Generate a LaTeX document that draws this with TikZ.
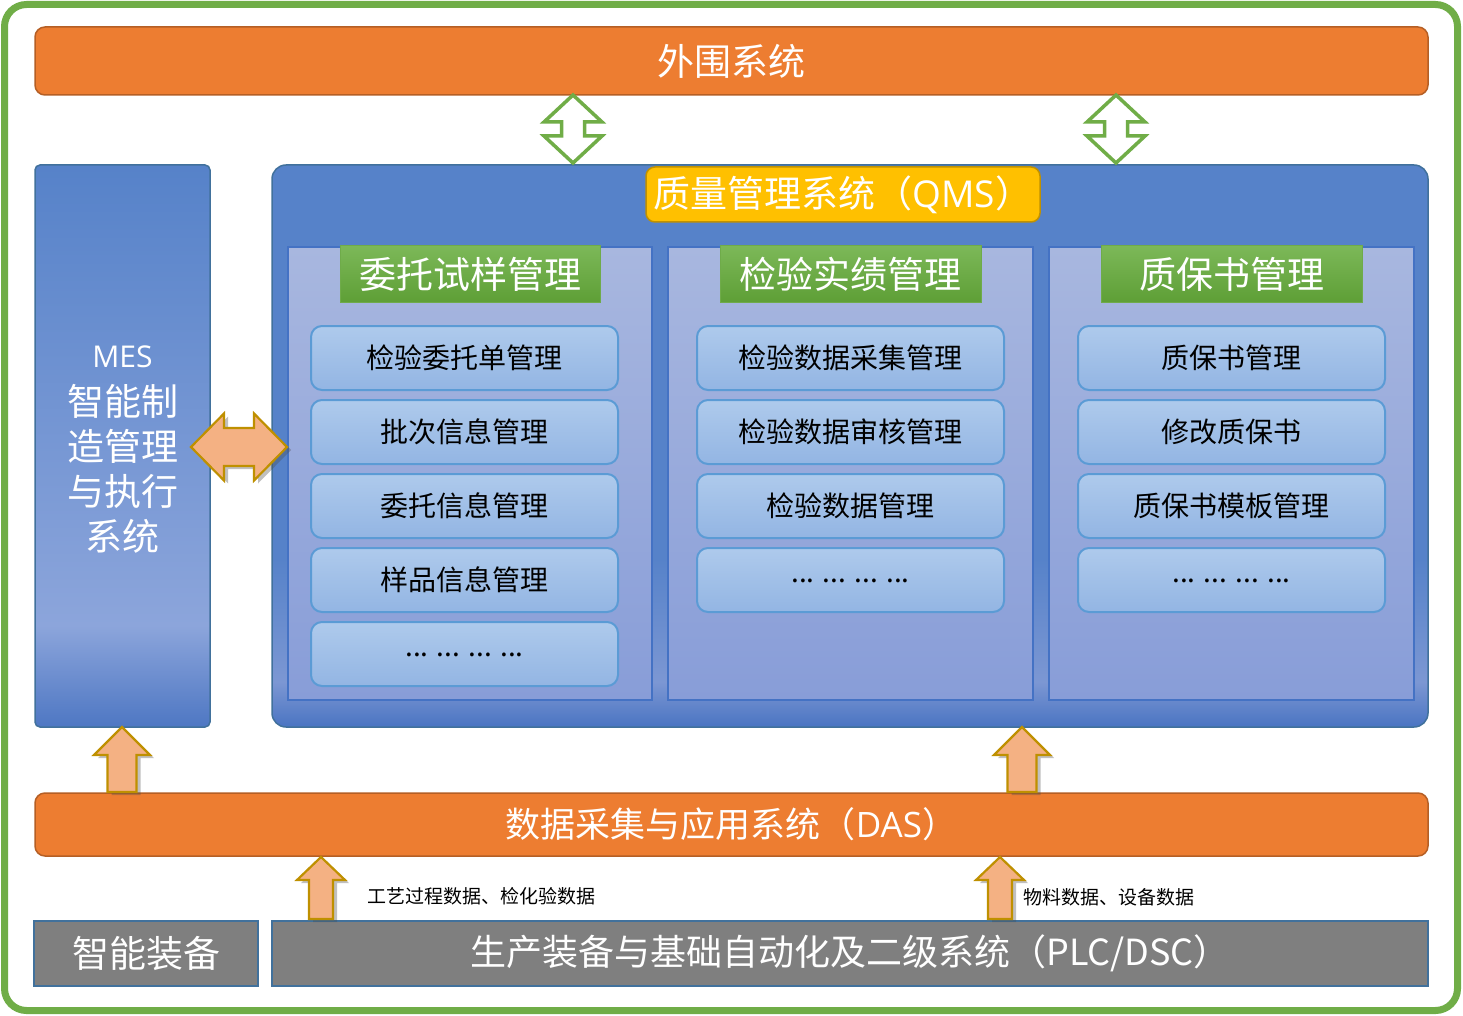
\documentclass[tikz,border=0pt]{standalone}
\usepackage{fontspec}
\setmainfont{Noto Sans CJK SC}
\newfontfamily\latf{Open Sans}
\usetikzlibrary{shadows,calc}
\definecolor{grnB}{HTML}{70AD47}
\definecolor{orgF}{HTML}{ED7D31}
\definecolor{orgD}{HTML}{B55F25}
\definecolor{qmsB}{HTML}{4A74C2}
\definecolor{qmsL}{HTML}{7C97D3}
\definecolor{qmsT}{HTML}{5682C9}
\definecolor{qmsD}{HTML}{41719C}
\definecolor{mesB}{HTML}{4E77C3}
\definecolor{mesL}{HTML}{8CA5DB}
\definecolor{mesT}{HTML}{5682C9}
\definecolor{panT}{HTML}{A8B7DF}
\definecolor{panB}{HTML}{889DD8}
\definecolor{panD}{HTML}{4472C4}
\definecolor{hdT}{HTML}{7CB858}
\definecolor{hdB}{HTML}{5E9F36}
\definecolor{hdD}{HTML}{6FAB4A}
\definecolor{itT}{HTML}{AECAEC}
\definecolor{itB}{HTML}{93B5E3}
\definecolor{itD}{HTML}{5B9BD5}
\definecolor{yelF}{HTML}{FFC000}
\definecolor{yelD}{HTML}{C09100}
\definecolor{gryF}{HTML}{7F7F7F}
\definecolor{gryD}{HTML}{41719C}
\definecolor{arrF}{HTML}{F4B183}
\definecolor{arrD}{HTML}{BF9000}
\pgfdeclareverticalshading{messhade}{100bp}{color(0bp)=(mesB); color(25bp)=(mesB); color(34bp)=(mesL); color(75bp)=(mesT); color(100bp)=(mesT)}
\pgfdeclareverticalshading{qmsshade}{100bp}{color(0bp)=(qmsB); color(25bp)=(qmsB); color(29bp)=(qmsL); color(40bp)=(qmsT); color(100bp)=(qmsT)}
\newcommand\myfs[1]{\fontsize{#1}{#1}\selectfont}
% single up arrow: style, tip, base, half head width, half shaft width, head length
\newcommand\myuparr[6]{\path[#1] let \p1=(#2),\p2=(#3) in (\x1,\y1) -- (\x1+#4,\y1-#6) -- (\x1+#5,\y1-#6) -- (\x1+#5,\y2) -- (\x1-#5,\y2) -- (\x1-#5,\y1-#6) -- (\x1-#4,\y1-#6) -- cycle;}
% vertical double arrow: style, top tip, bottom tip, half head, half shaft, head length
\newcommand\mydblv[6]{\path[#1] let \p1=(#2),\p2=(#3) in (\x1,\y1) -- (\x1+#4,\y1-#6) -- (\x1+#5,\y1-#6) -- (\x1+#5,\y2+#6) -- (\x1+#4,\y2+#6) -- (\x1,\y2) -- (\x1-#4,\y2+#6) -- (\x1-#5,\y2+#6) -- (\x1-#5,\y1-#6) -- (\x1-#4,\y1-#6) -- cycle;}
% horizontal double arrow: style, left tip, right tip, half head, half shaft, head length
\newcommand\mydblh[6]{\path[#1] let \p1=(#2),\p2=(#3) in (\x1,\y1) -- (\x1+#6,\y1+#4) -- (\x1+#6,\y1+#5) -- (\x2-#6,\y1+#5) -- (\x2-#6,\y1+#4) -- (\x2,\y1) -- (\x2-#6,\y1-#4) -- (\x2-#6,\y1-#5) -- (\x1+#6,\y1-#5) -- (\x1+#6,\y1-#4) -- cycle;}
\tikzset{
  box/.style={inner sep=0pt, outer sep=0pt},
  orangebar/.style={box, draw=orgD, line width=1.5pt, fill=orgF, rounded corners=10pt, text=white, font=\myfs{37}},
  qmsbox/.style={box, draw=qmsD, line width=1.5pt, shading=qmsshade, rounded corners=14pt},
  mesbox/.style={box, draw=qmsD, line width=1.5pt, shading=messhade, rounded corners=5pt},
  mestext/.style={box, text=white, align=center, font=\fontsize{37}{45}\selectfont},
  titlebox/.style={box, draw=yelD, line width=1.5pt, fill=yelF, rounded corners=9pt, text=white, font=\myfs{37}},
  panel/.style={box, draw=panD, line width=2pt, top color=panT, bottom color=panB},
  header/.style={box, draw=hdD, line width=1pt, top color=hdT, bottom color=hdB, text=white, font=\myfs{37}},
  item/.style={box, draw=itD, line width=2pt, top color=itT, bottom color=itB, rounded corners=11pt, text=black, font=\myfs{28}, minimum width=307pt, minimum height=64pt},
  graybox/.style={box, draw=gryD, line width=2pt, fill=gryF, text=white, font=\myfs{36}, minimum height=65pt},
  greenarrow/.style={draw=grnB, line width=3.5pt, fill=white, line join=miter},
  orangearrow/.style={draw=arrD, line width=2.2pt, fill=arrF, line join=miter, drop shadow={shadow xshift=4pt, shadow yshift=-3pt, opacity=0.35, fill=black!70}},
  lbl/.style={box, anchor=west, text=black, font=\myfs{19}}
}
\begin{document}
\begin{tikzpicture}[x=1pt, y=-1pt]
\useasboundingbox (0,0) rectangle (1463,1016);
\fill[white] (0,0) rectangle (1463,1016);
\draw[grnB, line width=7pt, rounded corners=22pt] (4.5,4.5) rectangle (1457.5,1010.5);

% top system
\node[orangebar, minimum width=1393pt, minimum height=68pt] (ext) at (731.5,61) {外围系统};

% QMS
\node[qmsbox, minimum width=1156pt, minimum height=562pt] (qms) at (850,446) {};
\node[titlebox, minimum width=394pt, minimum height=55pt] (qmst) at (843,194.5) {质量管理系统（{\latf QMS}）};

% MES
\node[mesbox, minimum width=175pt, minimum height=562pt] (mes) at (122.5,446) {};
\node[mestext] (mest) at (122.5,450) {\latf\myfs{30}MES\\[3pt]\rmfamily\fontsize{37}{45}\selectfont 智能制\\造管理\\与执行\\系统};

% panels
\node[panel, minimum width=364pt, minimum height=453pt] (p1) at (470,473.5) {};
\node[panel, minimum width=365pt, minimum height=453pt] (p2) at (850.5,473.5) {};
\node[panel, minimum width=365pt, minimum height=453pt] (p3) at (1231.5,473.5) {};
\node[header, minimum width=260pt, minimum height=56pt] (h1) at (470,274) {委托试样管理};
\node[header, minimum width=261pt, minimum height=56pt] (h2) at (850.5,274) {检验实绩管理};
\node[header, minimum width=261pt, minimum height=56pt] (h3) at (1231.5,274) {质保书管理};

% items panel 1
\node[item] (a1) at (464.5,358) {检验委托单管理};
\node[item] (a2) at (464.5,432) {批次信息管理};
\node[item] (a3) at (464.5,506) {委托信息管理};
\node[item] (a4) at (464.5,580) {样品信息管理};
\node[item] (a5) at (464.5,654) {\raisebox{-5pt}{... ... ... ...}};
% items panel 2
\node[item] (b1) at (850.5,358) {检验数据采集管理};
\node[item] (b2) at (850.5,432) {检验数据审核管理};
\node[item] (b3) at (850.5,506) {检验数据管理};
\node[item] (b4) at (850.5,580) {\raisebox{-5pt}{... ... ... ...}};
% items panel 3
\node[item] (c1) at (1231.5,358) {质保书管理};
\node[item] (c2) at (1231.5,432) {修改质保书};
\node[item] (c3) at (1231.5,506) {质保书模板管理};
\node[item] (c4) at (1231.5,580) {\raisebox{-5pt}{... ... ... ...}};

% DAS
\node[orangebar, font=\myfs{35}, minimum width=1393pt, minimum height=63pt] (das) at (731.5,824.5) {数据采集与应用系统（{\latf DAS}）};

% bottom gray
\node[graybox, font=\myfs{37}, minimum width=224pt] (smart) at (146,953.5) {智能装备};
\node[graybox, minimum width=1156pt] (plc) at (850,953.5) {生产装备与基础自动化及二级系统（PLC/DSC）};

% labels
\node[lbl] (l1) at (367,896) {工艺过程数据、检化验数据};
\node[lbl] (l2) at (1023,897) {物料数据、设备数据};

% green double arrows (ext <-> qms)
\coordinate (g1t) at (573,95);
\coordinate (g1b) at (573,163);
\coordinate (g2t) at (1116,95);
\coordinate (g2b) at (1116,163);
\mydblv{greenarrow}{g1t}{g1b}{29pt}{11.5pt}{27pt}
\mydblv{greenarrow}{g2t}{g2b}{29pt}{11.5pt}{27pt}

% MES <-> QMS
\coordinate (hl) at (191,447);
\coordinate (hr) at (287,447);
\mydblh{orangearrow}{hl}{hr}{33.5pt}{19pt}{33pt}

% DAS -> MES, DAS -> QMS
\coordinate (u1t) at (122,727);
\coordinate (u1b) at (122,792);
\coordinate (u2t) at (1022,727);
\coordinate (u2b) at (1022,792);
\myuparr{orangearrow}{u1t}{u1b}{28pt}{14.5pt}{28pt}
\myuparr{orangearrow}{u2t}{u2b}{28pt}{14.5pt}{28pt}

% PLC -> DAS
\coordinate (d1t) at (321,857);
\coordinate (d1b) at (321,919);
\coordinate (d2t) at (1000,857);
\coordinate (d2b) at (1000,919);
\myuparr{orangearrow}{d1t}{d1b}{24pt}{12pt}{23pt}
\myuparr{orangearrow}{d2t}{d2b}{24pt}{12pt}{23pt}
\end{tikzpicture}
\end{document}
